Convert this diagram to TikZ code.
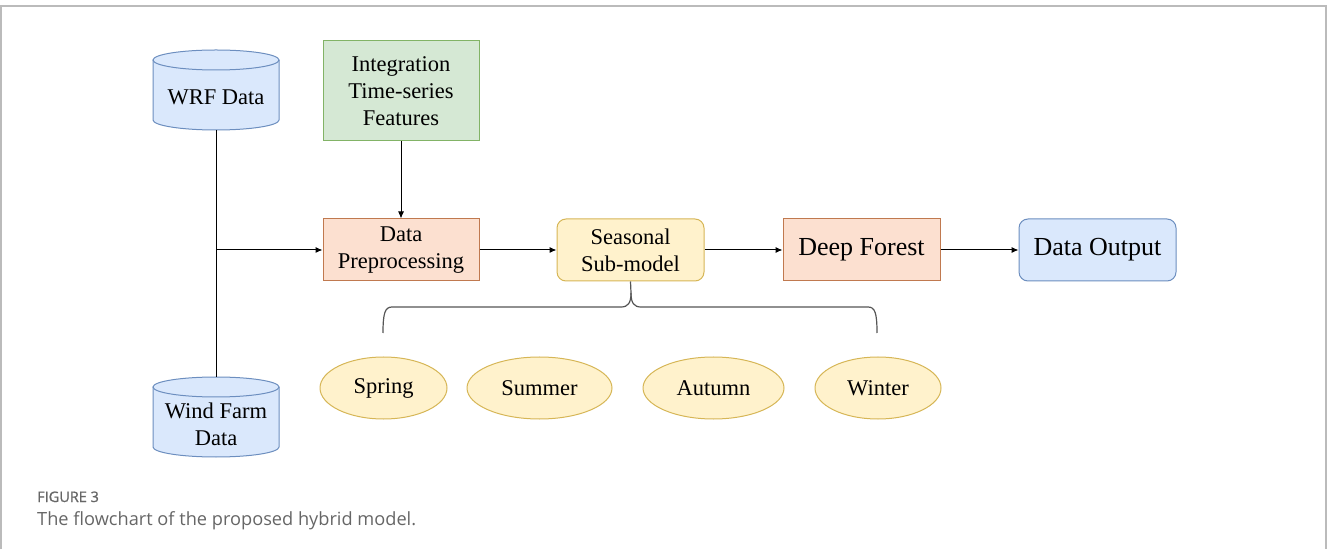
\documentclass[tikz,border=0pt]{standalone}
\usepackage{fontspec}
\setmainfont{Liberation Serif}
\newfontfamily\capfont{Open Sans}
\newfontfamily\capbold{Open Sans}[FakeBold=1]
\usetikzlibrary{arrows.meta,shapes.geometric}
\definecolor{bluefill}{HTML}{DAE8FC}
\definecolor{blueline}{HTML}{6C8EBF}
\definecolor{greenfill}{HTML}{D5E8D4}
\definecolor{greenline}{HTML}{82B366}
\definecolor{peachfill}{HTML}{FCE0D0}
\definecolor{peachline}{HTML}{C0794F}
\definecolor{yelfill}{HTML}{FFF2CC}
\definecolor{yelline}{HTML}{D6B656}
\definecolor{framegray}{HTML}{BBBBBB}
\definecolor{capgray}{HTML}{666666}
\definecolor{bracegray}{HTML}{555555}
\begin{document}
\begin{tikzpicture}[x=1pt,y=1pt,
  txt/.style={align=center, inner sep=0pt, font=\fontsize{22.5}{27}\selectfont},
  box/.style={draw, line width=1pt, minimum width=156pt, minimum height=62pt, inner sep=0pt, align=center, font=\fontsize{22.5}{27}\selectfont},
  bigbox/.style={box, font=\fontsize{26}{30}\selectfont},
  season/.style={ellipse, draw=yelline, fill=yelfill, line width=1pt, minimum height=62pt, inner sep=0pt, font=\fontsize{22.5}{27}\selectfont},
  cylline/.style={draw=blueline, line width=1pt},
  arr/.style={-{Latex[length=7pt,width=6pt]}, line width=1pt, black},
  ln/.style={line width=1pt, black}
]
\useasboundingbox (0,0) rectangle (1327,549);
% frame
\draw[framegray, line width=1.2pt] (1,0) -- (1,543) -- (1326,543) -- (1326,0);

% WRF cylinder
\fill[bluefill] (153,489) -- (153,429) arc[start angle=180,end angle=360,x radius=63,y radius=10] -- (279,489) arc[start angle=0,end angle=180,x radius=63,y radius=10] -- cycle;
\draw[cylline] (153,489) -- (153,429) arc[start angle=180,end angle=360,x radius=63,y radius=10] -- (279,489);
\draw[cylline] (216,489) ellipse[x radius=63,y radius=10];
\node[minimum width=126pt, minimum height=80pt, inner sep=0pt] (wrf) at (216,459) {};
\node[txt] (wrft) at (216,452) {WRF Data};

% Wind farm cylinder
\fill[bluefill] (153,162) -- (153,102) arc[start angle=180,end angle=360,x radius=63,y radius=10] -- (279,162) arc[start angle=0,end angle=180,x radius=63,y radius=10] -- cycle;
\draw[cylline] (153,162) -- (153,102) arc[start angle=180,end angle=360,x radius=63,y radius=10] -- (279,162);
\draw[cylline] (216,162) ellipse[x radius=63,y radius=10];
\node[minimum width=126pt, minimum height=80pt, inner sep=0pt] (wf) at (216,132) {};
\node[txt] (wft) at (216,124.5) {Wind Farm\\Data};

% boxes
\node[box, draw=greenline, fill=greenfill, minimum height=100pt] (integ) at (401,458) {Integration\\Time-series\\Features};
\node[box, draw=peachline, fill=peachfill] (prep) at (401,299) {Data\\Preprocessing};
\node[box, draw=yelline, fill=yelfill, rounded corners=9pt, minimum width=147pt] (seas) at (630.5,299) {Seasonal\\Sub-model};
\node[bigbox, draw=peachline, fill=peachfill, minimum width=157pt] (deep) at (861.5,299) {Deep Forest};
\node[bigbox, draw=blueline, fill=bluefill, rounded corners=9pt, minimum width=157pt] (out) at (1097.5,299) {Data Output};

% seasons
\node[season, minimum width=127pt] (spring) at (383.5,161) {Spring};
\node[season, minimum width=145pt] (summer) at (539.5,161) {Summer};
\node[season, minimum width=141pt] (autumn) at (713.5,161) {Autumn};
\node[season, minimum width=126pt] (winter) at (878,161) {Winter};

% connectors
\draw[ln] (wrf.south) -- (wf.north);
\draw[arr] (wrf.south |- prep.west) -- (prep.west);
\draw[arr] (integ.south) -- (prep.north);
\draw[arr] (prep.east) -- (seas.west);
\draw[arr] (seas.east) -- (deep.west);
\draw[arr] (deep.east) -- (out.west);

% brace
\draw[bracegray, line width=1.2pt]
  (383,216) .. controls (383,236) and (385,242) .. (392,242)
  -- (621,242) .. controls (628,242) and (631,246) .. (631,256) -- (seas.south);
\draw[bracegray, line width=1.2pt]
  (877,216) .. controls (877,236) and (875,242) .. (868,242)
  -- (641,242) .. controls (634,242) and (631,246) .. (631,256);

% caption
\node[anchor=base west, inner sep=0pt, text=capgray, font=\capbold\fontsize{14.5}{16}\selectfont] (fig) at (37,47) {FIGURE 3};
\node[anchor=base west, inner sep=0pt, text=capgray, font=\capfont\fontsize{18.2}{20}\selectfont] (cap) at (37,24) {The flowchart of the proposed hybrid model.};
\end{tikzpicture}
\end{document}
